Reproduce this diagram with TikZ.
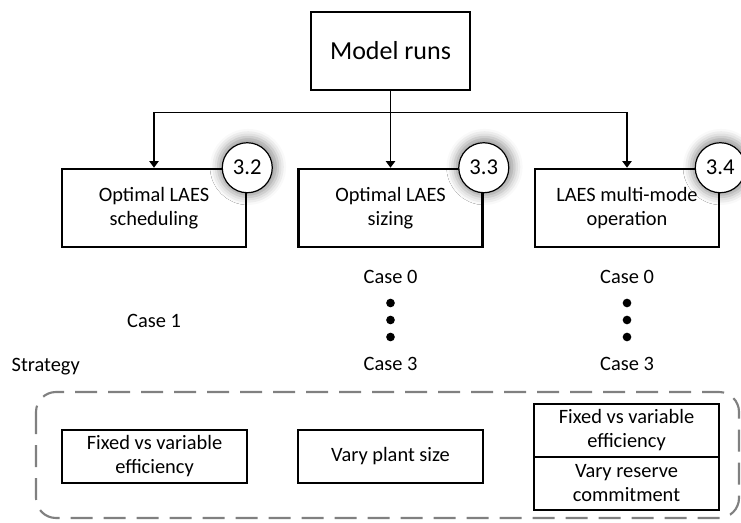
\documentclass[tikz,border=0pt]{standalone}
\usepackage{fontspec}
\setmainfont{Carlito}
\usetikzlibrary{positioning}
\usetikzlibrary{arrows.meta}
\usetikzlibrary{shadows.blur}

\tikzset{
  runbox/.style={draw, line width=1.9pt, minimum width=119pt, minimum height=58.5pt,
    font=\fontsize{19.5}{23}\selectfont},
  studybox/.style={draw, line width=1.9pt, fill=white, minimum width=138pt,
    minimum height=58.5pt, align=center, font=\fontsize{15.3}{18}\selectfont},
  tag/.style={draw, circle, fill=white, line width=0.9pt, minimum size=37.5pt,
    inner sep=0pt, font=\fontsize{17}{20}\selectfont,
    blur shadow={shadow xshift=0.5pt, shadow yshift=0.5pt, shadow scale=1.2,
      shadow blur radius=5pt, shadow opacity=38}},
  optbox/.style={draw, line width=0.9pt, outer sep=0pt, minimum width=138.75pt,
    minimum height=39.75pt, align=center, font=\fontsize{15.3}{18}\selectfont},
  lbl/.style={font=\fontsize{15.3}{18}\selectfont},
  dot/.style={circle, fill=black, inner sep=0pt, minimum size=6.5pt},
  arr/.style={-{Triangle[width=7pt,length=5pt]}, line width=1.1pt},
}

\begin{document}
\begin{tikzpicture}[x=0.75pt, y=-0.75pt]
  \useasboundingbox (0,0) rectangle (741,523);

  \node (run) [runbox] at (390.5,51) {Model runs};
  \node (sched) [studybox] at (154,208) {Optimal LAES\\scheduling};
  \node (sizing) [studybox] at (390.5,208) {Optimal LAES\\sizing};
  \node (multi) [studybox] at (627,208) {LAES multi-mode\\operation};
  \node (t32) [tag] at (sched.north east) {3.2};
  \node (t33) [tag] at (sizing.north east) {3.3};
  \node (t34) [tag] at (multi.north east) {3.4};

  \coordinate (split) at (390.5,112.5);
  \draw[line width=1.1pt] (run.south) -- (split);
  \draw[arr] (split) -| (sched.north);
  \draw[arr] (split) -- (sizing.north);
  \draw[arr] (split) -| (multi.north);

  % cases
  \node (case1) [lbl] at (154,321) {Case 1};
  \node (case0b) [lbl] at (390.5,277) {Case 0};
  \node (case3b) [lbl] at (390.5,364) {Case 3};
  \node (case0c) [lbl] at (627,277) {Case 0};
  \node (case3c) [lbl] at (627,364) {Case 3};
  \foreach \y [count=\i] in {303,320,337} {
    \node (dotb\i) [dot] at (390.5,\y) {};
    \node (dotc\i) [dot] at (627,\y) {};
  }

  % strategies
  \node (strat) [lbl, anchor=west] at (7,367) {Strategy};
  \draw[black!50, line width=1.6pt, dash pattern=on 16.5pt off 8.25pt,
    rounded corners=15pt] (36,392) rectangle (739,518);
  \node (eff1) [optbox] at (154.5,456.5) {Fixed vs variable\\efficiency};
  \node (plant) [optbox] at (390.5,456.5) {Vary plant size};
  \node (eff3) [optbox] at (626.5,430.5) {Fixed vs variable\\efficiency};
  \node (res3) [optbox, below=0pt of eff3] {Vary reserve\\commitment};
\end{tikzpicture}
\end{document}
